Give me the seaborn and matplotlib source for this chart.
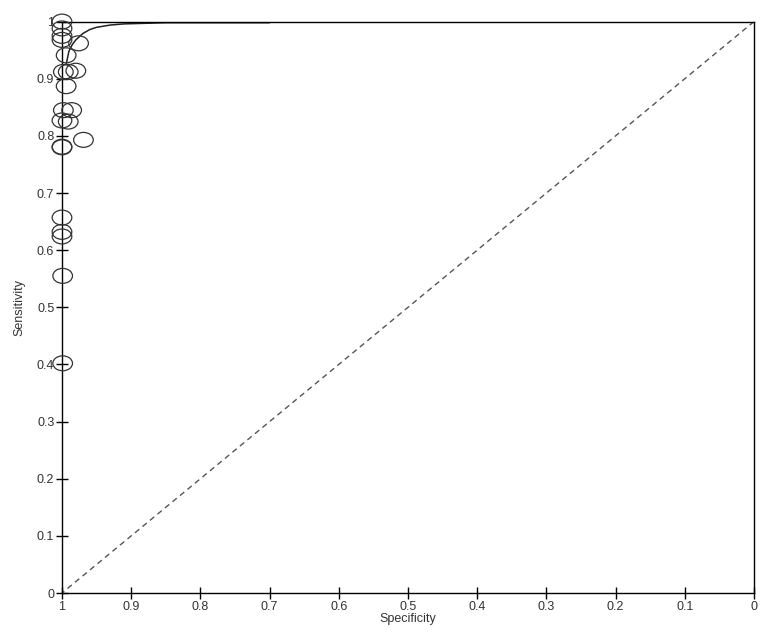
import matplotlib
matplotlib.use('Agg')
import matplotlib.pyplot as plt
from matplotlib.path import Path
from matplotlib.transforms import Affine2D
import seaborn as sns
import pandas as pd

# study points (specificity, sensitivity)
spec = [1.0, 1.0, 1.0, 1.0, 0.976, 0.994, 0.998, 0.991, 0.980, 0.994,
        0.998, 0.986, 1.0, 0.991, 0.969, 1.0, 1.0, 1.0, 1.0, 1.0, 0.999, 0.999]
sens = [1.0, 0.988, 0.975, 0.968, 0.962, 0.941, 0.912, 0.912, 0.914, 0.887,
        0.845, 0.845, 0.827, 0.825, 0.793, 0.780, 0.781, 0.657, 0.632, 0.624, 0.555, 0.402]

# SROC curve
curve_spec = [0.994, 0.99, 0.985, 0.98, 0.97, 0.96, 0.95, 0.93, 0.91, 0.88, 0.85, 0.8, 0.75, 0.7]
curve_sens = [0.925, 0.948, 0.960, 0.968, 0.979, 0.986, 0.990, 0.994, 0.996, 0.997, 0.998, 0.998, 0.998, 0.998]

xticks = [1, 0.9, 0.8, 0.7, 0.6, 0.5, 0.4, 0.3, 0.2, 0.1, 0]
xlabels = ['1', '0.9', '0.8', '0.7', '0.6', '0.5', '0.4', '0.3', '0.2', '0.1', '0']
yticks = [0, 0.1, 0.2, 0.3, 0.4, 0.5, 0.6, 0.7, 0.8, 0.9, 1]
ylabels = ['0', '0.1', '0.2', '0.3', '0.4', '0.5', '0.6', '0.7', '0.8', '0.9', '1']

sns.set_style('white')
plt.rcParams['font.family'] = ['Liberation Sans', 'DejaVu Sans']

fig = plt.figure(figsize=(7.7, 6.35), dpi=100)
ax = fig.add_axes([0.0805, 0.0661, 0.8987, 0.8999])

pts = pd.DataFrame({'spec': spec, 'sens': sens})
crv = pd.DataFrame({'spec': curve_spec, 'sens': curve_sens})

# chance line
sns.lineplot(x=[1, 0], y=[0, 1], ax=ax, color='#555555', lw=1, ls=(0, (4, 3)))

# flattened circle marker
ell = Path.unit_circle().transformed(Affine2D().scale(1.0, 0.76))
sns.scatterplot(data=pts, x='spec', y='sens', ax=ax, marker=ell, s=200,
                facecolor='none', edgecolor='#333333', linewidth=0.9, zorder=3, clip_on=False)

sns.lineplot(data=crv, x='spec', y='sens', ax=ax, sort=False, color='#222222', lw=1.1)

ax.set_xlim(1, 0)
ax.set_ylim(0, 1)
ax.set_xticks(xticks)
ax.set_xticklabels(xlabels)
ax.set_yticks(yticks)
ax.set_yticklabels(ylabels)
ax.tick_params(direction='inout', length=9, width=1, color='black', labelsize=9,
               labelcolor='#333333', pad=1, bottom=True, left=True)
for sp in ax.spines.values():
    sp.set_color('black')
    sp.set_linewidth(1)
ax.set_xlabel('Specificity', fontsize=9, color='#333333', labelpad=0)
ax.set_ylabel('Sensitivity', fontsize=9, color='#333333', labelpad=8)

plt.savefig('out.png', dpi=100)
plt.close()
